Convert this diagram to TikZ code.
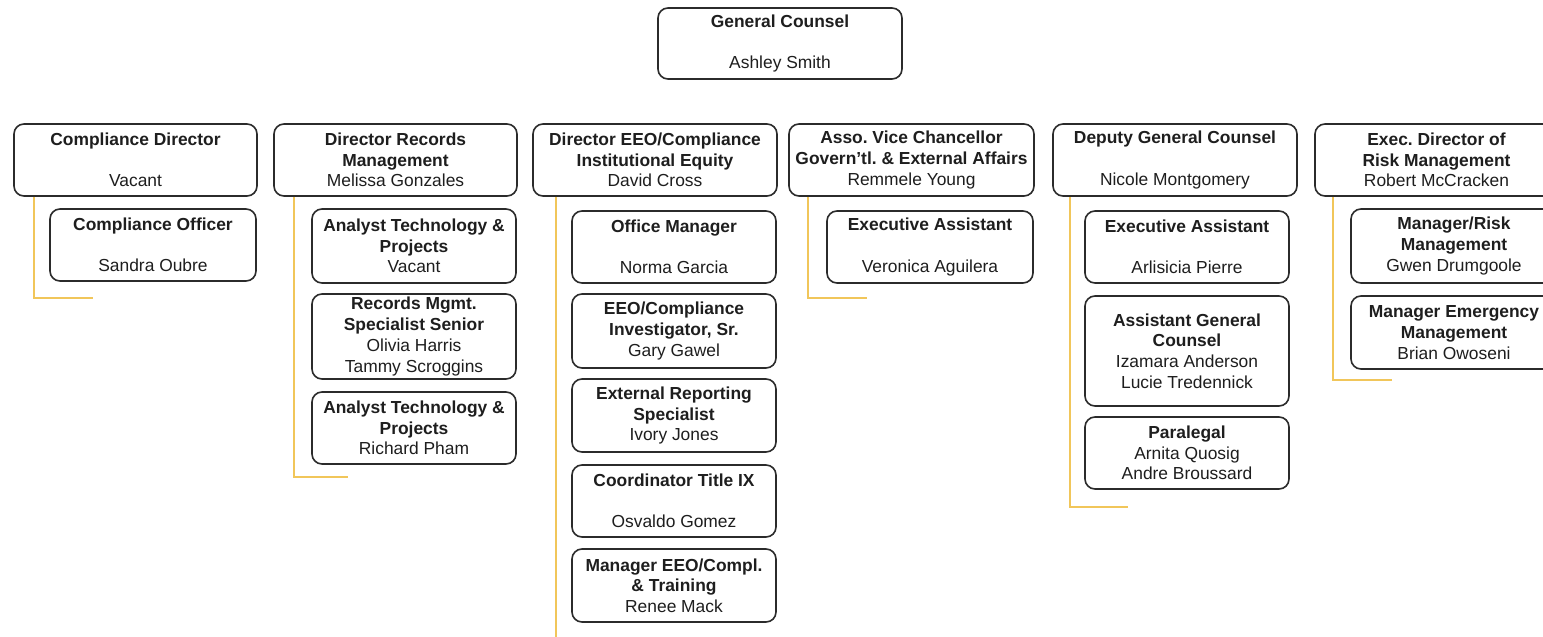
\documentclass[tikz,border=0pt]{standalone}
\usepackage{fontspec}
\setmainfont{Liberation Sans}
\frenchspacing
\definecolor{conncol}{HTML}{F1C65A}
\definecolor{boxline}{HTML}{2B2B2B}
\definecolor{txt}{HTML}{1E1E1E}
\tikzset{
  box/.style={draw=boxline, line width=1.6pt, rounded corners=10pt, fill=white,
    align=center, inner sep=0pt, text=txt,
    font=\fontsize{17.4pt}{20.7pt}\selectfont},
  conn/.style={draw=conncol, line width=2pt}
}
\newcommand{\ttl}[1]{\textbf{#1}}
\begin{document}
\begin{tikzpicture}[x=1pt,y=-1pt]
\useasboundingbox (0,0) rectangle (1543,637);
\clip (0,0) rectangle (1543,637);
\fill[white] (0,0) rectangle (1543,637);

% connector ends
\coordinate (cdend) at (93,298);
\coordinate (drmend) at (348,477);
\coordinate (eeoend) at (556,660);
\coordinate (avcend) at (867,298);
\coordinate (dgcend) at (1128,507);
\coordinate (ermend) at (1392,380);

% top
\node[box, minimum width=244pt, minimum height=71pt] (gc) at (780,43.5)
  {\ttl{General Counsel}\\ \strut\\ Ashley Smith};

% second row
\node[box, minimum width=243pt, minimum height=72pt] (cd) at (135.5,160)
  {\ttl{Compliance Director}\\ \strut\\ Vacant};
\node[box, minimum width=243pt, minimum height=72pt] (drm) at (395.5,160)
  {\ttl{Director Records}\\ \ttl{Management}\\ Melissa Gonzales};
\node[box, minimum width=244pt, minimum height=72pt] (eeo) at (655,160)
  {\ttl{Director EEO/Compliance}\\ \ttl{Institutional Equity}\\ David Cross};
\node[box, minimum width=245pt, minimum height=72pt] (avc) at (911.5,160)
  {\ttl{Asso. Vice Chancellor}\\ \ttl{Govern{\char39}tl. \& External Affairs}\\ Remmele Young};
\node[box, minimum width=244pt, minimum height=72pt] (dgc) at (1175,160)
  {\ttl{Deputy General Counsel}\\ \strut\\ Nicole Montgomery};
\node[box, minimum width=243pt, minimum height=72pt] (erm) at (1436.5,160)
  {\ttl{Exec. Director of}\\ \ttl{Risk Management}\\ Robert McCracken};

% connectors (drawn before children)
\draw[conn] ([xshift=21pt]cd.south west) |- (cdend);
\draw[conn] ([xshift=21pt]drm.south west) |- (drmend);
\draw[conn] (eeoend |- eeo.south) -- (eeoend);
\draw[conn] ([xshift=20pt]avc.south west) |- (avcend);
\draw[conn] ([xshift=18pt]dgc.south west) |- (dgcend);
\draw[conn] ([xshift=19pt]erm.south west) |- (ermend);

% column 1
\node[box, minimum width=206pt, minimum height=72pt] (co) at (153,245)
  {\ttl{Compliance Officer}\\ \strut\\ Sandra Oubre};

% column 2
\node[box, minimum width=204pt, minimum height=74pt] (at1) at (414,246)
  {\ttl{Analyst Technology \&}\\ \ttl{Projects}\\ Vacant};
\node[box, minimum width=204pt, minimum height=85pt] (rms) at (414,336.5)
  {\ttl{Records Mgmt.}\\ \ttl{Specialist Senior}\\ Olivia Harris\\ Tammy Scroggins};
\node[box, minimum width=204pt, minimum height=72pt] (at2) at (414,428)
  {\ttl{Analyst Technology \&}\\ \ttl{Projects}\\ Richard Pham};

% column 3
\node[box, minimum width=204pt, minimum height=72pt] (om) at (674,247)
  {\ttl{Office Manager}\\ \strut\\ Norma Garcia};
\node[box, minimum width=204pt, minimum height=74pt] (inv) at (674,331)
  {\ttl{EEO/Compliance}\\ \ttl{Investigator, Sr.}\\ Gary Gawel};
\node[box, minimum width=204pt, minimum height=73pt] (ext) at (674,415.5)
  {\ttl{External Reporting}\\ \ttl{Specialist}\\ Ivory Jones};
\node[box, minimum width=204pt, minimum height=72pt] (tix) at (674,501)
  {\ttl{Coordinator Title IX}\\ \strut\\ Osvaldo Gomez};
\node[box, minimum width=204pt, minimum height=73pt] (mgr) at (674,585.5)
  {\ttl{Manager EEO/Compl.}\\ \ttl{\& Training}\\ Renee Mack};

% column 4
\node[box, minimum width=206pt, minimum height=72pt] (ea1) at (930,247)
  {\ttl{Executive Assistant}\\ \strut\\ Veronica Aguilera};

% column 5
\node[box, minimum width=204pt, minimum height=72pt] (ea2) at (1187,247)
  {\ttl{Executive Assistant}\\ \strut\\ Arlisicia Pierre};
\node[box, minimum width=204pt, minimum height=110pt] (agc) at (1187,351)
  {\ttl{Assistant General}\\ \ttl{Counsel}\\ Izamara Anderson\\ Lucie Tredennick};
\node[box, minimum width=204pt, minimum height=72pt] (para) at (1187,453)
  {\ttl{Paralegal}\\ Arnita Quosig\\ Andre Broussard};

% column 6
\node[box, minimum width=206pt, minimum height=74pt] (mrm) at (1454,246)
  {\ttl{Manager/Risk}\\ \ttl{Management}\\ Gwen Drumgoole};
\node[box, minimum width=206pt, minimum height=73pt] (mem) at (1454,332.5)
  {\ttl{Manager Emergency}\\ \ttl{Management}\\ Brian Owoseni};
\end{tikzpicture}
\end{document}
